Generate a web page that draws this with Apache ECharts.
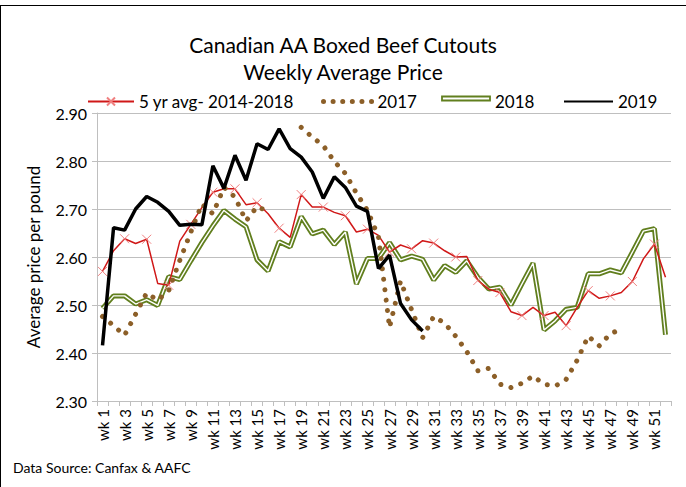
<!DOCTYPE html>
<html>
<head>
<meta charset="utf-8">
<script src="https://cdn.jsdelivr.net/npm/echarts@6/dist/echarts.min.js"></script>
<style>
html,body{margin:0;padding:0;background:#fff;}
#c{width:686px;height:487px;}
</style>
</head>
<body>
<div id="c"></div>
<script>
var weeks = [];
for (var i = 1; i <= 52; i++) weeks.push('wk ' + i);

var avg5yr = [2.570,2.613,2.638,2.628,2.637,2.545,2.541,2.633,2.668,2.703,
  2.735,2.742,2.742,2.709,2.713,2.690,2.660,2.641,2.730,2.704,
  2.704,2.693,2.686,2.652,2.658,2.645,2.610,2.625,2.617,2.634,
  2.629,2.613,2.600,2.601,2.551,2.533,2.526,2.486,2.478,2.495,
  2.478,2.485,2.457,2.495,2.530,2.514,2.519,2.526,2.549,2.596,
  2.627,2.558];

var y2017 = [2.476,2.457,2.437,2.481,2.525,2.510,2.530,2.593,2.652,2.710,
  2.690,2.745,2.725,2.675,2.705,2.695,null,null,2.870,2.850,
  2.832,2.799,2.774,2.733,2.697,2.642,2.453,2.550,2.490,2.432,
  2.476,2.462,2.435,2.403,2.363,2.368,2.335,2.328,2.337,2.352,
  2.335,2.331,2.345,2.385,2.435,2.415,2.440,2.450,null,null,
  null,null];

var y2018 = [2.493,2.519,2.519,2.502,2.511,2.499,2.559,2.553,2.592,2.630,
  2.665,2.697,2.679,2.663,2.594,2.571,2.632,2.621,2.684,2.648,
  2.656,2.626,2.652,2.544,2.597,2.597,2.630,2.594,2.602,2.595,
  2.552,2.582,2.568,2.592,2.558,2.533,2.537,2.500,2.544,2.587,
  2.448,2.467,2.491,2.495,2.565,2.565,2.573,2.567,2.610,2.654,
  2.659,2.438];

var y2019 = [2.416,2.661,2.656,2.700,2.726,2.714,2.695,2.666,2.668,2.667,
  2.790,2.743,2.812,2.760,2.836,2.824,2.867,2.826,2.808,2.777,
  2.722,2.767,2.745,2.706,2.695,2.576,2.604,2.503,2.469,2.446];

var FONT = 'Lato';
var legendFont = {fontFamily: FONT, fontSize: 17, color: '#000'};
var GREEN = '#617f1e';
var BROWN = '#8c5f28';

var chart = echarts.init(document.getElementById('c'), null, {renderer: 'svg'});
chart.setOption({
  animation: false,
  backgroundColor: '#fff',
  title: {
    text: 'Canadian AA Boxed Beef Cutouts\nWeekly Average Price',
    left: 'center',
    top: 26,
    textStyle: {fontFamily: FONT, fontSize: 21, fontWeight: 'normal', color: '#000', lineHeight: 27}
  },
  legend: [
    {data: ['5 yr avg- 2014-2018'], left: 82, top: 88, itemWidth: 46, itemHeight: 10, textStyle: legendFont},
    {data: [{name: '2017', itemStyle: {opacity: 0},
        lineStyle: {color: BROWN, width: 5, type: [0.01, 9.6], cap: 'round', dashOffset: -1}}],
      left: 315, top: 88, itemWidth: 50, itemHeight: 10, textStyle: legendFont},
    {data: [{name: '2018', itemStyle: {opacity: 0}, lineStyle: {opacity: 0}}],
      left: 436, top: 88, itemWidth: 48, itemHeight: 10, textStyle: legendFont},
    {data: [{name: '2019', itemStyle: {opacity: 0}}], left: 558, top: 88, itemWidth: 49, itemHeight: 10,
      textStyle: legendFont}
  ],
  grid: {left: 97, right: 15, top: 113, bottom: 86, outerBoundsMode: 'none'},
  xAxis: {
    type: 'category',
    data: weeks,
    boundaryGap: true,
    axisLine: {lineStyle: {color: '#bfbfbf', width: 1}},
    axisTick: {show: true, interval: 0, length: 5, lineStyle: {color: '#bfbfbf'}},
    axisLabel: {interval: 1, rotate: 90, margin: 8, fontFamily: FONT, fontSize: 15, color: '#000'},
    splitLine: {show: false}
  },
  yAxis: {
    type: 'value',
    min: 2.3, max: 2.9, interval: 0.1,
    axisLine: {show: true, lineStyle: {color: '#bfbfbf'}},
    axisTick: {show: true, length: 5, lineStyle: {color: '#bfbfbf'}},
    axisLabel: {margin: 10, fontFamily: FONT, fontSize: 16, color: '#000',
      formatter: function (v) { return v.toFixed(2); }},
    splitLine: {lineStyle: {color: '#bfbfbf', width: 1}}
  },
  graphic: [
    {type: 'text', x: 33, y: 257, rotation: Math.PI / 2,
      style: {text: 'Average price per pound', fontFamily: FONT, fontSize: 17, fill: '#000',
        textAlign: 'center', textVerticalAlign: 'middle'}},
    {type: 'text', x: 13, y: 467,
      style: {text: 'Data Source: Canfax & AAFC', fontFamily: FONT, fontSize: 14, fill: '#000',
        textAlign: 'left', textVerticalAlign: 'middle'}},
    {type: 'rect', shape: {x: 442, y: 96.5, width: 48, height: 4},
      style: {fill: '#fff', stroke: GREEN, lineWidth: 1.8}, silent: true, z: 100},
    {type: 'line', shape: {x1: 0, y1: 5.5, x2: 686, y2: 5.5},
      style: {stroke: '#000', lineWidth: 1}, silent: true},
    {type: 'line', shape: {x1: 0.5, y1: 5, x2: 0.5, y2: 487},
      style: {stroke: '#000', lineWidth: 1}, silent: true}
  ],
  series: [
    {
      name: '2018', type: 'line', data: y2018, symbol: 'none', z: 2,
      lineStyle: {color: GREEN, width: 5}, itemStyle: {color: GREEN}
    },
    {
      name: '2018 inner', type: 'line', data: y2018, symbol: 'none', z: 3,
      lineStyle: {color: '#ffffff', width: 1.4}, itemStyle: {color: '#ffffff'}
    },
    {
      name: '5 yr avg- 2014-2018', type: 'line', data: avg5yr, z: 4,
      symbol: 'path://M0,0L10,10M10,0L0,10', symbolSize: 9, showSymbol: true,
      lineStyle: {color: '#d01818', width: 1.5},
      itemStyle: {color: 'rgba(0,0,0,0)', borderColor: '#f08080', borderWidth: 1}
    },
    {
      name: '2017', type: 'line', data: y2017, symbol: 'none', z: 5,
      lineStyle: {color: BROWN, width: 5, type: [0.01, 10.5], cap: 'round'},
      itemStyle: {color: BROWN}
    },
    {
      name: '2019', type: 'line', data: y2019, symbol: 'none', z: 6,
      lineStyle: {color: '#000000', width: 3.5}, itemStyle: {color: '#000'}
    }
  ]
});
</script>
</body>
</html>
